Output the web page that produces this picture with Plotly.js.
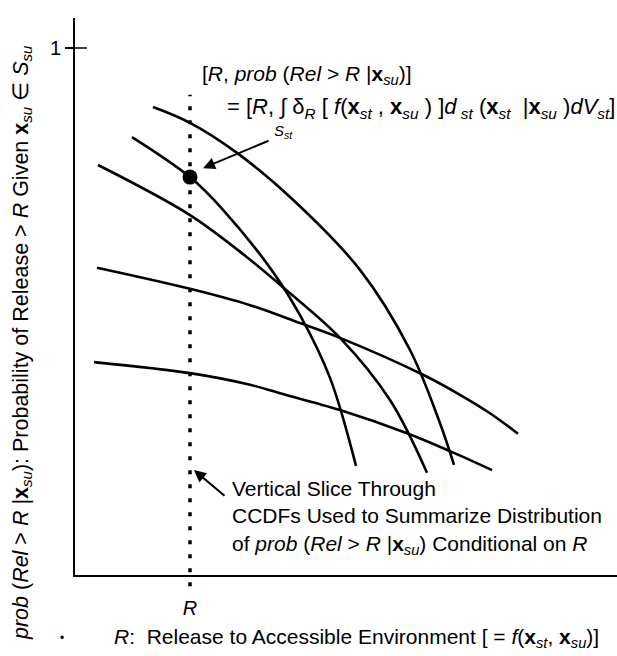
<!DOCTYPE html>
<html>
<head>
<meta charset="utf-8">
<script src="https://cdn.plot.ly/plotly-3.0.1.min.js"></script>
<style>html,body{margin:0;padding:0;background:#fff;}#chart{width:617px;height:656px;}</style>
</head>
<body>
<div id="chart"></div>
<script>
// ---- data ----
const ccdfA_x = [0.78, 1.15, 1.62, 2.18, 2.85, 3.35, 3.65, 3.79];
const ccdfA_y = [0.888, 0.858, 0.801, 0.712, 0.579, 0.427, 0.288, 0.209];
const ccdfB_x = [0.57, 1.15, 1.48, 1.98, 2.25, 2.55, 2.81];
const ccdfB_y = [0.831, 0.755, 0.693, 0.575, 0.493, 0.374, 0.207];
const ccdfC_x = [0.23, 1.15, 1.72, 2.08, 2.65, 3.15, 3.52];
const ccdfC_y = [0.778, 0.683, 0.603, 0.546, 0.450, 0.332, 0.194];
const ccdfD_x = [0.22, 1.15, 1.75, 2.25, 2.65, 3.48, 3.85, 4.15, 4.43];
const ccdfD_y = [0.583, 0.543, 0.512, 0.478, 0.450, 0.380, 0.342, 0.307, 0.268];
const ccdfE_x = [0.19, 1.15, 1.75, 2.05, 2.65, 3.32, 3.75, 4.17];
const ccdfE_y = [0.404, 0.383, 0.361, 0.345, 0.313, 0.269, 0.235, 0.199];
const sliceR = [1.15];
const sliceProb = [0.755];
const xTickVals = [1.15];
const xTickText = ['<i>R</i>'];
const yTickVals = [1];
const yTickText = ['1'];

const FONT = 'Liberation Sans, Arial, Helvetica, sans-serif';
const curveLine = {color: '#000', width: 2.6, shape: 'spline', smoothing: 1};
const curves = [[ccdfA_x, ccdfA_y], [ccdfB_x, ccdfB_y], [ccdfC_x, ccdfC_y], [ccdfD_x, ccdfD_y], [ccdfE_x, ccdfE_y]];
const traces = curves.map(c => ({x: c[0], y: c[1], type: 'scatter', mode: 'lines', line: curveLine, hoverinfo: 'skip', showlegend: false}));
traces.push({x: sliceR, y: sliceProb, type: 'scatter', mode: 'markers', marker: {color: '#000', size: 15}, showlegend: false});

const layout = {
  width: 617, height: 656,
  margin: {l: 75, r: 0, t: 18, b: 81, pad: 0},
  paper_bgcolor: '#fff', plot_bgcolor: '#fff',
  font: {family: FONT, size: 21, color: '#000'},
  showlegend: false,
  xaxis: {range: [0, 5.42], showline: true, linecolor: '#000', linewidth: 2, showgrid: false, zeroline: false,
          tickvals: xTickVals, ticktext: xTickText, ticks: '', ticklabelstandoff: 14, tickfont: {size: 20}},
  yaxis: {range: [0, 1.0569], showline: true, linecolor: '#000', linewidth: 2, showgrid: false, zeroline: false,
          tickvals: yTickVals, ticktext: yTickText, ticks: 'outside', ticklen: 8, tickwidth: 1.5, tickcolor: '#000', tickfont: {size: 20}},
  shapes: [
    {type: 'line', xref: 'x', yref: 'paper', x0: sliceR[0], x1: sliceR[0], y0: -0.02, y1: 0.862,
     line: {color: '#000', width: 3.5, dash: '4px,10px'}},
    {type: 'line', xref: 'paper', yref: 'y', x0: 0, x1: 0.022, y0: yTickVals[0], y1: yTickVals[0],
     line: {color: '#000', width: 1.5}}
  ],
  annotations: [
    {xref: 'paper', yref: 'paper', x: -0.098, y: 0.418, textangle: -90, showarrow: false, xanchor: 'center', yanchor: 'middle',
     font: {size: 21.5},
     text: '<i>prob</i> (<i>Rel</i> &gt; <i>R</i> |<b>x</b><sub><i>su</i></sub>): Probability of Release &gt; <i>R</i> Given <b>x</b><sub><i>su</i></sub> ∈ <i>S</i><sub><i>su</i></sub>'},
    {xref: 'paper', yref: 'paper', x: 0.068, y: -0.113, showarrow: false, xanchor: 'left', yanchor: 'middle',
     text: '<i>R</i>:  Release to Accessible Environment [ = <i>f</i>(<b>x</b><sub><i>st</i></sub>, <b>x</b><sub><i>su</i></sub>)]'},
    {xref: 'paper', yref: 'paper', x: -0.024, y: -0.113, showarrow: false, xanchor: 'center', yanchor: 'middle', font: {size: 12}, text: '•'},
    {xref: 'paper', yref: 'paper', x: 0.2306, y: 0.8977, showarrow: false, xanchor: 'left', yanchor: 'middle',
     text: '[<i>R</i>, <i>prob</i> (<i>Rel</i> &gt; <i>R</i> |<b>x</b><sub><i>su</i></sub>)]'},
    {xref: 'paper', yref: 'paper', x: 0.277, y: 0.838, showarrow: false, xanchor: 'left', yanchor: 'middle',
     font: {size: 22},
     text: '= [<i>R</i>, ∫ δ<sub><i>R</i></sub> [ <i>f</i>(<b>x</b><sub><i>st</i></sub> , <b>x</b><sub><i>su</i></sub> ) ]<i>d</i><sub> <i>st</i></sub> (<b>x</b><sub><i>st</i></sub>  |<b>x</b><sub><i>su</i></sub> )<i>dV</i><sub><i>st</i></sub>]'},
    {xref: 'paper', yref: 'paper', x: 0.385, y: 0.796, showarrow: false, xanchor: 'center', yanchor: 'middle',
     font: {size: 15}, text: '<i>S</i><sub><i>st</i></sub>'},
    {xref: 'paper', yref: 'paper', x: 0.2865, y: 0.103, showarrow: false, xanchor: 'left', yanchor: 'middle', align: 'left',
     text: 'Vertical Slice Through<br>CCDFs Used to Summarize Distribution<br>of <i>prob</i> (<i>Rel</i> &gt; <i>R</i> |<b>x</b><sub><i>su</i></sub>) Conditional on <i>R</i>'},
    {x: 1.28, y: 0.772, xref: 'x', yref: 'y', text: '', showarrow: true, arrowhead: 2, arrowsize: 1.2, arrowwidth: 2, arrowcolor: '#000', ax: 67, ay: -28},
    {x: 1.19, y: 0.199, xref: 'x', yref: 'y', text: '', showarrow: true, arrowhead: 2, arrowsize: 1.2, arrowwidth: 2, arrowcolor: '#000', ax: 32, ay: 27}
  ]
};

Plotly.newPlot('chart', traces, layout, {staticPlot: true, displayModeBar: false});
</script>
</body>
</html>
